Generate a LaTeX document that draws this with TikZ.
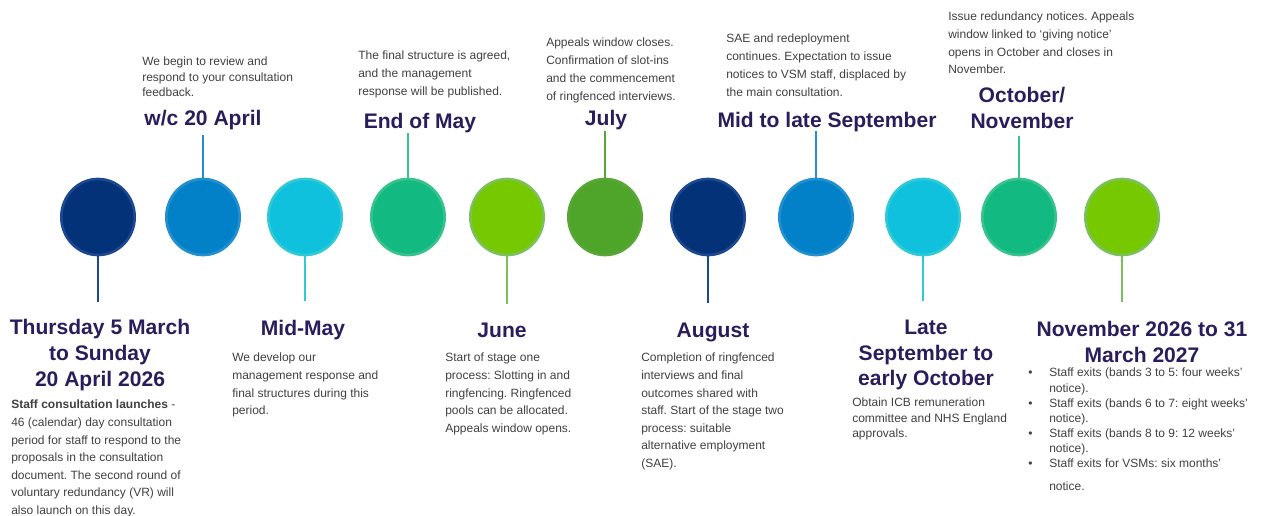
\documentclass[tikz,border=0pt]{standalone}
\usepackage{fontspec}
\setmainfont{Liberation Sans}
\usetikzlibrary{shapes.geometric}
\frenchspacing

\definecolor{titlecol}{HTML}{2A1D5C}
\definecolor{bodycol}{HTML}{404040}
\definecolor{navyc}{HTML}{033279}
\definecolor{navyb}{HTML}{1C4890}
\definecolor{bluec}{HTML}{0280C8}
\definecolor{blueb}{HTML}{2290CF}
\definecolor{cyanc}{HTML}{10C1DE}
\definecolor{cyanb}{HTML}{30C9D6}
\definecolor{tealc}{HTML}{12B981}
\definecolor{tealb}{HTML}{38C38C}
\definecolor{limec}{HTML}{76C900}
\definecolor{limeb}{HTML}{7CC05C}
\definecolor{grassc}{HTML}{4FA42A}
\definecolor{grassb}{HTML}{58A638}

\begin{document}
\begin{tikzpicture}[
        x=0.75pt, y=-0.75pt,
        dot/.style={ellipse, draw, line width=2pt, inner sep=0pt, minimum width=55pt, minimum height=57pt},
        stick/.style={line width=1.6pt},
        when/.style={align=center, inner sep=0pt, text=titlecol, font=\fontsize{15.8}{19.2}\selectfont\bfseries},
        info/.style={align=left, anchor=north west, inner sep=0pt, text=bodycol, font=\fontsize{9}{13.2}\selectfont}
    ]
    \useasboundingbox (0,0) rectangle (1262,515);

    % Cerchi della timeline
    \node[dot, fill=navyc,  draw=navyb]  (e1)  at (98,217)   {};
    \node[dot, fill=bluec,  draw=blueb]  (e2)  at (203,217)  {};
    \node[dot, fill=cyanc,  draw=cyanb]  (e3)  at (305,217)  {};
    \node[dot, fill=tealc,  draw=tealb]  (e4)  at (408,217)  {};
    \node[dot, fill=limec,  draw=limeb]  (e5)  at (507,217)  {};
    \node[dot, fill=grassc, draw=grassb] (e6)  at (605,217)  {};
    \node[dot, fill=navyc,  draw=navyb]  (e7)  at (708,217)  {};
    \node[dot, fill=bluec,  draw=blueb]  (e8)  at (816,217)  {};
    \node[dot, fill=cyanc,  draw=cyanb]  (e9)  at (923,217)  {};
    \node[dot, fill=tealc,  draw=tealb]  (e10) at (1019,217) {};
    \node[dot, fill=limec,  draw=limeb]  (e11) at (1122,217) {};

    % Estremi delle aste
    \coordinate (s1)  at (98,302);
    \coordinate (s2)  at (203,135);
    \coordinate (s3)  at (305,301);
    \coordinate (s4)  at (408,133);
    \coordinate (s5)  at (507,304);
    \coordinate (s6)  at (605,131);
    \coordinate (s7)  at (708,303);
    \coordinate (s8)  at (816,131);
    \coordinate (s9)  at (923,301);
    \coordinate (s10) at (1019,136);
    \coordinate (s11) at (1122,302);

    \draw[stick, navyb]  (e1)  -- (s1);
    \draw[stick, blueb]  (e2)  -- (s2);
    \draw[stick, cyanb]  (e3)  -- (s3);
    \draw[stick, tealb]  (e4)  -- (s4);
    \draw[stick, limeb]  (e5)  -- (s5);
    \draw[stick, grassb] (e6)  -- (s6);
    \draw[stick, navyb]  (e7)  -- (s7);
    \draw[stick, blueb]  (e8)  -- (s8);
    \draw[stick, cyanb]  (e9)  -- (s9);
    \draw[stick, tealb]  (e10) -- (s10);
    \draw[stick, limeb]  (e11) -- (s11);

    % Date
    \node[when] (t1)  at (100,355)  {Thursday 5 March\\to Sunday\\20 April 2026};
    \node[when] (t2)  at (203,120)  {w/c 20 April};
    \node[when] (t3)  at (303,330)  {Mid-May};
    \node[when] (t4)  at (420,123)  {End of May};
    \node[when] (t5)  at (502,330)  {June};
    \node[when] (t6)  at (606,120)  {July};
    \node[when] (t7)  at (713,332)  {August};
    \node[when] (t8)  at (827,122)  {Mid to late September};
    \node[when] (t9)  at (926,355)  {Late\\September to\\early October};
    \node[when] (t10) at (1022,108) {October/\\November};
    \node[when] (t11) at (1142,342) {November 2026 to 31\\March 2027};

    % Descrizioni
    \node[info] (b1) at (11,400) {\textbf{Staff consultation launches} -\\46 (calendar) day consultation\\period for staff to respond to the\\proposals in the consultation\\document. The second round of\\voluntary redundancy (VR) will\\also launch on this day.};
    \node[info, font=\fontsize{9}{11.5}\selectfont] (b2) at (142,57) {We begin to review and\\respond to your consultation\\feedback.};
    \node[info] (b3) at (232,353) {We develop our\\management response and\\final structures during this\\period.};
    \node[info, font=\fontsize{9}{13.5}\selectfont] (b4) at (358,51) {The final structure is agreed,\\and the management\\response will be published.};
    \node[info] (b5) at (445,353) {Start of stage one\\process: Slotting in and\\ringfencing. Ringfenced\\pools can be allocated.\\Appeals window opens.};
    \node[info, font=\fontsize{9}{13.5}\selectfont] (b6) at (546,38) {Appeals window closes.\\Confirmation of slot-ins\\and the commencement\\of ringfenced interviews.};
    \node[info] (b7) at (641,353) {Completion of ringfenced\\interviews and final\\outcomes shared with\\staff. Start of the stage two\\process: suitable\\alternative employment\\(SAE).};
    \node[info, font=\fontsize{9}{13.5}\selectfont] (b8) at (726,34) {SAE and redeployment\\continues. Expectation to issue\\notices to VSM staff, displaced by\\the main consultation.};
    \node[info, font=\fontsize{9}{11.6}\selectfont] (b9) at (852,398) {Obtain ICB remuneration\\committee and NHS England\\approvals.};
    \node[info] (b10) at (948,12) {Issue redundancy notices. Appeals\\window linked to ‘giving notice’\\opens in October and closes in\\November.};
    \node[info, font=\fontsize{9}{11.3}\selectfont] (b11) at (1028,368) {\makebox[15.75pt][l]{\textbullet}Staff exits (bands 3 to 5: four weeks’\\\hspace*{15.75pt}notice).\\\makebox[15.75pt][l]{\textbullet}Staff exits (bands 6 to 7: eight weeks’\\\hspace*{15.75pt}notice).\\\makebox[15.75pt][l]{\textbullet}Staff exits (bands 8 to 9: 12 weeks’\\\hspace*{15.75pt}notice).\\\makebox[15.75pt][l]{\textbullet}Staff exits for VSMs: six months’\\[6pt]\hspace*{15.75pt}notice.};

\end{tikzpicture}
\end{document}
